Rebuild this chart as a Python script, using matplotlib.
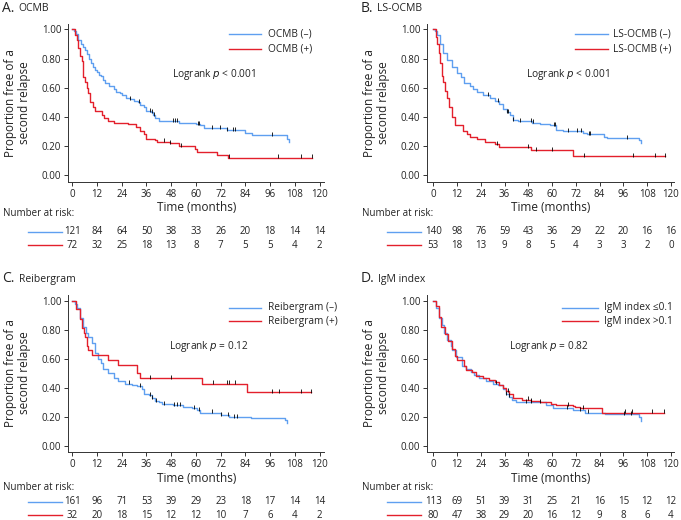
import numpy as np
import matplotlib
matplotlib.use("Agg")
import matplotlib.pyplot as plt
from matplotlib.lines import Line2D

plt.rcParams['font.family'] = ['Open Sans', 'DejaVu Sans']

BLUE = '#5f9ff0'
RED = '#e3202c'

months = [0, 12, 24, 36, 48, 60, 72, 84, 96, 108, 120]

# ---------------- Panel A: OCMB ----------------
A_blue_t = [0, 1, 2, 3, 4, 5, 6, 7, 8, 9, 10, 11, 12, 13, 14, 15, 16, 18, 20, 21, 23, 24, 26, 28, 30,
            32, 33, 35, 36, 38, 39, 40, 42, 52, 56, 60, 62, 64, 75, 84, 87, 104, 105]
A_blue_s = [1.00, 0.99, 0.97, 0.93, 0.90, 0.88, 0.86, 0.83, 0.80, 0.77, 0.74, 0.72, 0.71, 0.69, 0.68,
            0.65, 0.63, 0.61, 0.59, 0.57, 0.56, 0.55, 0.53, 0.52, 0.51, 0.50, 0.48, 0.47, 0.44, 0.43,
            0.41, 0.39, 0.37, 0.36, 0.355, 0.35, 0.34, 0.32, 0.31, 0.29, 0.275, 0.25, 0.23]
A_blue_c = [28, 32.5, 37.7, 38.5, 39.7, 49, 50, 51, 61, 61.5, 67.7, 71.7, 75, 78, 79, 97]
A_red_t = [0, 1.5, 2.4, 3, 3.7, 4.5, 5, 6.2, 7, 7.8, 8.6, 10.2, 11, 14.3, 15.4, 17.5, 20, 27, 31, 33,
           35, 36, 40, 41, 47.5, 52, 59.6, 60.4, 70, 75.8, 116.3]
A_red_s = [1.00, 0.96, 0.93, 0.87, 0.82, 0.78, 0.67, 0.64, 0.60, 0.56, 0.50, 0.47, 0.44, 0.41, 0.39,
           0.37, 0.36, 0.35, 0.33, 0.30, 0.28, 0.25, 0.24, 0.23, 0.22, 0.20, 0.18, 0.16, 0.14, 0.12, 0.12]
A_red_c = [44.5, 47.5, 52.8, 76, 100, 111, 116.3]
A_risk_blue = [121, 84, 64, 50, 38, 33, 26, 20, 18, 14, 14]
A_risk_red = [72, 32, 25, 18, 13, 8, 7, 5, 5, 4, 2]

# ---------------- Panel B: LS-OCMB ----------------
B_blue_t = [0, 0.8, 2, 3.4, 5, 6.7, 9.3, 11.8, 13.8, 15.5, 18.5, 20, 22, 25, 28.6, 31, 33, 35, 37,
            38.7, 40.4, 43, 49.7, 54, 59, 62, 65.6, 75.8, 77.4, 86, 87.5, 104, 105]
B_blue_s = [1.00, 0.99, 0.96, 0.90, 0.84, 0.79, 0.74, 0.70, 0.67, 0.63, 0.61, 0.59, 0.57, 0.55, 0.53,
            0.51, 0.49, 0.45, 0.43, 0.41, 0.38, 0.37, 0.36, 0.35, 0.34, 0.31, 0.30, 0.29, 0.28, 0.26,
            0.255, 0.24, 0.22]
B_blue_c = [27.4, 32.8, 37.2, 37.8, 40.4, 43.8, 49.5, 50.5, 60.8, 61.5, 68, 72.4, 74.6, 78.5, 79.3, 98]
B_red_t = [0, 1.3, 2, 2.9, 3.4, 4.2, 5, 5.9, 7, 8, 9.3, 11, 15, 16.8, 18.5, 22, 26, 31, 33, 49.6,
           70.7, 117]
B_red_s = [1.00, 0.95, 0.90, 0.84, 0.77, 0.68, 0.64, 0.58, 0.53, 0.47, 0.40, 0.34, 0.30, 0.28, 0.26,
           0.25, 0.23, 0.21, 0.19, 0.17, 0.13, 0.13]
B_red_c = [32.3, 47.6, 52, 59.8, 76, 101, 112, 117]
B_risk_blue = [140, 98, 76, 59, 43, 36, 29, 22, 20, 16, 16]
B_risk_red = [53, 18, 13, 9, 8, 5, 4, 3, 3, 2, 0]

# ---------------- Panel C: Reibergram ----------------
C_blue_t = [0, 1.2, 2.4, 3.7, 5, 6.7, 7.8, 9.4, 11, 12.7, 13.8, 15, 17.5, 20, 22.4, 25.7, 29, 31.4,
            33.8, 35, 37, 38.7, 40, 42, 43.6, 49, 53.8, 58, 60.6, 62, 69, 72, 76, 86.7, 103, 104]
C_blue_s = [1.00, 0.98, 0.95, 0.88, 0.82, 0.78, 0.75, 0.71, 0.64, 0.60, 0.57, 0.53, 0.50, 0.47, 0.45,
            0.43, 0.42, 0.41, 0.39, 0.36, 0.35, 0.33, 0.31, 0.30, 0.29, 0.28, 0.27, 0.26, 0.25, 0.23,
            0.225, 0.215, 0.20, 0.19, 0.18, 0.16]
C_blue_c = [27.3, 32.7, 37.9, 38.7, 40.5, 44.4, 49.3, 50.9, 52.5, 59.3, 61.4, 68, 72, 75.6, 78.5, 79.8]
C_red_t = [0, 1.8, 3.7, 4.5, 5.7, 6.2, 7, 7.8, 9.4, 17.5, 22.4, 31.4, 33, 63, 85, 116]
C_red_s = [1.00, 0.94, 0.875, 0.81, 0.78, 0.75, 0.69, 0.66, 0.625, 0.59, 0.56, 0.50, 0.47, 0.43,
           0.37, 0.37]
C_red_c = [37.5, 48, 68.3, 75, 76, 79, 97, 100.5, 111, 116]
C_risk_blue = [161, 96, 71, 53, 39, 29, 23, 18, 17, 14, 14]
C_risk_red = [32, 20, 18, 15, 12, 12, 10, 7, 6, 4, 2]

# ---------------- Panel D: IgM index ----------------
D_blue_t = [0, 1.2, 2.9, 4.2, 5.4, 7.1, 8.8, 9.7, 11.4, 14.7, 16.4, 19, 20.7, 23, 26.6, 30, 32.5, 35,
            36.8, 38.5, 40, 42, 57, 60.5, 70.7, 76.6, 86.8, 103.7, 105]
D_blue_s = [1.00, 0.95, 0.88, 0.83, 0.78, 0.73, 0.69, 0.66, 0.61, 0.55, 0.53, 0.51, 0.49, 0.47, 0.45,
            0.43, 0.42, 0.39, 0.36, 0.34, 0.32, 0.30, 0.28, 0.26, 0.25, 0.23, 0.22, 0.20, 0.17]
D_blue_c = [31.7, 36.8, 38.5, 47, 49.5, 53.7, 67.3, 74, 78.3, 96.4, 99.8]
D_red_t = [0, 1.2, 2.9, 4.1, 6, 7.6, 9.3, 11, 12.2, 15.6, 16.4, 19.8, 21.5, 25, 28, 31, 33.4, 35,
           36.8, 38.5, 40.2, 45, 49.5, 53.7, 59.7, 62, 70.7, 71.5, 74, 85, 116.4]
D_red_s = [1.00, 0.96, 0.89, 0.82, 0.77, 0.72, 0.67, 0.62, 0.59, 0.55, 0.52, 0.51, 0.48, 0.465,
           0.455, 0.44, 0.42, 0.40, 0.38, 0.36, 0.33, 0.32, 0.31, 0.30, 0.29, 0.28, 0.275, 0.27, 0.26,
           0.23, 0.23]
D_red_c = [37.6, 47.8, 49.5, 68.1, 75.8, 96.9, 100.3, 110.5, 116.4]
D_risk_blue = [113, 69, 51, 39, 31, 25, 21, 16, 15, 12, 12]
D_risk_red = [80, 47, 38, 29, 20, 16, 12, 9, 8, 6, 4]

panels = [
    dict(letter='A.', name='OCMB', labels=['OCMB (\u2013)', 'OCMB (+)'], p='< 0.001',
         blue=(A_blue_t, A_blue_s, A_blue_c), red=(A_red_t, A_red_s, A_red_c),
         risk=(A_risk_blue, A_risk_red)),
    dict(letter='B.', name='LS-OCMB', labels=['LS-OCMB (\u2013)', 'LS-OCMB (+)'], p='< 0.001',
         blue=(B_blue_t, B_blue_s, B_blue_c), red=(B_red_t, B_red_s, B_red_c),
         risk=(B_risk_blue, B_risk_red)),
    dict(letter='C.', name='Reibergram', labels=['Reibergram (\u2013)', 'Reibergram (+)'], p='= 0.12',
         blue=(C_blue_t, C_blue_s, C_blue_c), red=(C_red_t, C_red_s, C_red_c),
         risk=(C_risk_blue, C_risk_red)),
    dict(letter='D.', name='IgM index', labels=['IgM index \u22640.1', 'IgM index >0.1'], p='= 0.82',
         blue=(D_blue_t, D_blue_s, D_blue_c), red=(D_red_t, D_red_s, D_red_c),
         risk=(D_risk_blue, D_risk_red)),
]

W, H = 681, 520
fig = plt.figure(figsize=(W / 100, H / 100), dpi=100)


def fx(x):
    return x / W


def fy(y):
    return 1 - y / H


layout = [
    dict(l=68.3, r=324.3, t=24, b=181.7, xlim=(-1.94, 122.3), ox=0, oy=0),
    dict(l=427.3, r=673.5, t=24, b=181.7, xlim=(-3.0, 121.3), ox=359, oy=0),
    dict(l=68.3, r=324.3, t=295, b=452.3, xlim=(-1.94, 122.3), ox=0, oy=271),
    dict(l=427.3, r=673.5, t=295, b=452.3, xlim=(-3.0, 121.3), ox=359, oy=271),
]
ylims = [(-0.046, 1.037), (-0.046, 1.037), (-0.043, 1.039), (-0.043, 1.039)]
risk_rows = [(214, 231.7, 245), (214, 231.7, 245), (488, 501.7, 515), (488, 501.7, 515)]
ylabel_y = [103, 103, 373, 373]

for i, (pn, lay) in enumerate(zip(panels, layout)):
    ax = fig.add_axes([fx(lay['l']), fy(lay['b']), fx(lay['r'] - lay['l']), (lay['b'] - lay['t']) / H])
    ax.set_xlim(*lay['xlim'])
    ax.set_ylim(*ylims[i])
    for (t, s, c), col in ((pn['blue'], BLUE), (pn['red'], RED)):
        t = np.asarray(t, float)
        s = np.asarray(s, float)
        ax.step(t, s, where='post', color=col, lw=1.0, zorder=3)
        c = np.asarray(c, float)
        idx = np.clip(np.searchsorted(t, c, side='right') - 1, 0, len(s) - 1)
        ax.plot(c, s[idx] + 0.008, linestyle='none', marker='|', color='black',
                markersize=3.2, mew=0.6, zorder=4)
    for sp in ('top', 'right'):
        ax.spines[sp].set_visible(False)
    for sp in ('left', 'bottom'):
        ax.spines[sp].set_linewidth(0.7)
        ax.spines[sp].set_color('#333333')
    ax.set_xticks(months)
    ax.set_yticks([0, 0.2, 0.4, 0.6, 0.8, 1.0])
    ax.set_yticklabels(['0.00', '0.20', '0.40', '0.60', '0.80', '1.00'])
    ax.tick_params(axis='both', labelsize=7, length=3, width=0.7, pad=2, colors='#333333',
                   labelcolor='#222222')
    ax.set_xlabel('Time (months)', fontsize=8.5, labelpad=1, color='#222222')

    ox, oy = lay['ox'], lay['oy']
    fig.text(fx(18 + ox), fy(ylabel_y[i]), 'Proportion free of a\nsecond relapse', rotation=90,
             fontsize=8.5, ha='center', va='center', linespacing=1.1, color='#222222')
    # panel title
    fig.text(fx(2 + ox), fy(8 + oy), pn['letter'], fontsize=10, va='center', ha='left', color='#222222')
    fig.text(fx(18.5 + ox + (1 if i == 3 else 0)), fy(8.5 + oy), pn['name'], fontsize=7.5, va='center',
             ha='left', color='#222222')
    # legend
    if ox == 0:
        lx0, lx1, tx = 229, 261, 268
    else:
        lx0, lx1, tx = (575, 608, 613) if i == 1 else (562, 598, 604)
    for k, (lab, col) in enumerate(zip(pn['labels'], (BLUE, RED))):
        yy = 34 + k * 15 if oy == 0 else 307.7 + k * 13.5
        fig.add_artist(Line2D([fx(lx0), fx(lx1)], [fy(yy), fy(yy)], color=col, lw=1.0))
        fig.text(fx(tx), fy(yy), lab, fontsize=7.3, va='center', ha='left', color='#222222')
    # logrank
    lr_x = [172.3, 525.7, 169.3, 509.3][i]
    lr_y = [75, 75, 346, 346][i]
    fig.text(fx(lr_x), fy(lr_y), 'Logrank $\\it{p}$ ' + pn['p'], fontsize=7.3, va='center', ha='left',
             color='#222222')
    # number at risk
    base, r1, r2 = risk_rows[i]
    fig.text(fx(3 + ox), fy(base), 'Number at risk:', fontsize=7, va='center', ha='left', color='#222222')
    x0d, x1d = lay['xlim']
    for yy, vals, col in zip((r1, r2), pn['risk'], (BLUE, RED)):
        lxs = (28 + ox, 62 + ox)
        fig.add_artist(Line2D([fx(lxs[0]), fx(lxs[1])], [fy(yy), fy(yy)], color=col, lw=1.0))
        for m, v in zip(months, vals):
            px = lay['l'] + (m - x0d) / (x1d - x0d) * (lay['r'] - lay['l'])
            fig.text(fx(px), fy(yy), str(v), fontsize=7, va='center', ha='center', color='#222222')

fig.savefig('out.png', dpi=100)
